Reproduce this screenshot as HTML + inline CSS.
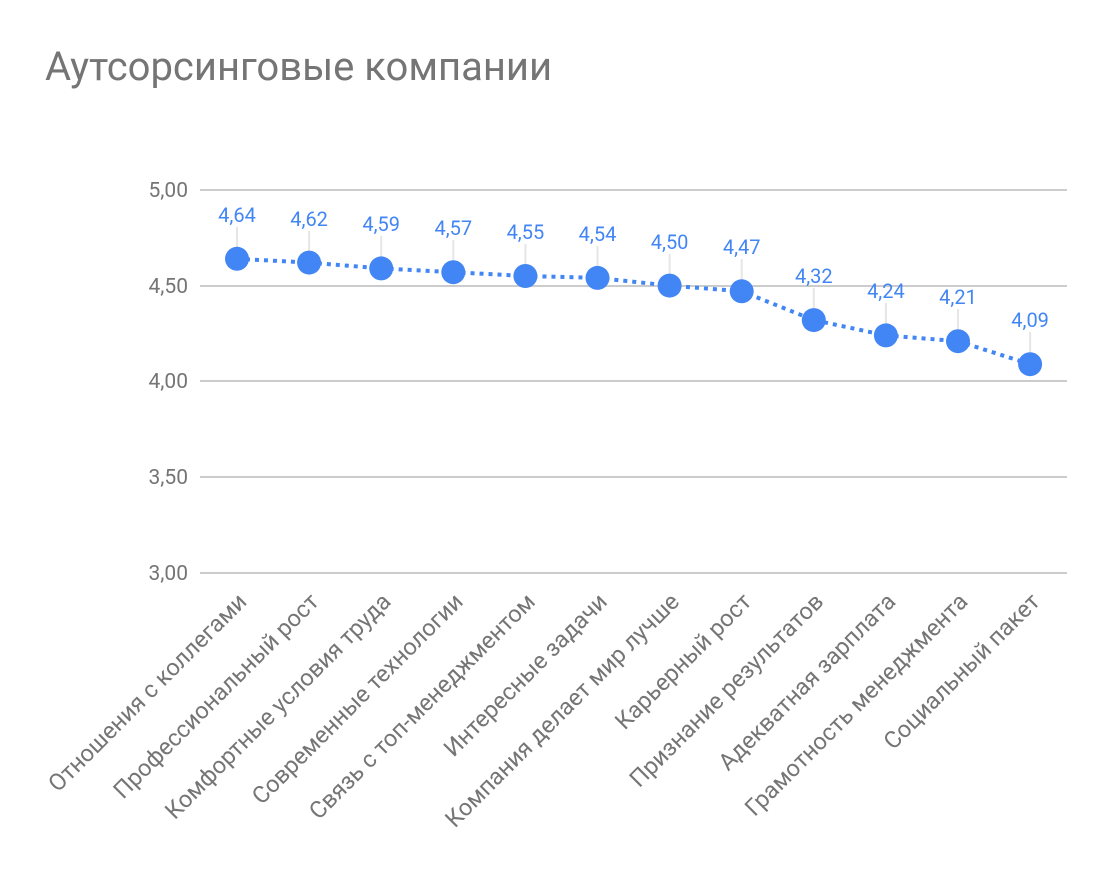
<!DOCTYPE html>
<html><head><meta charset="utf-8"><style>body{margin:0;background:#fff}svg{display:block}</style></head>
<body>
<svg width="1104" height="876" xmlns="http://www.w3.org/2000/svg" font-family="Roboto, 'Liberation Sans', sans-serif">
<rect width="1104" height="876" fill="#fff"/>
<text x="45" y="80" font-size="40" fill="#757575">Аутсорсинговые компании</text>
<g stroke="#cccccc" stroke-width="2">
<line x1="200" x2="1067" y1="190" y2="190"/>
<line x1="200" x2="1067" y1="286" y2="286"/>
<line x1="200" x2="1067" y1="381" y2="381"/>
<line x1="200" x2="1067" y1="477" y2="477"/>
<line x1="200" x2="1067" y1="573" y2="573"/>
</g>
<g font-size="21" fill="#757575" text-anchor="end">
<text x="188" y="197">5,00</text>
<text x="188" y="293">4,50</text>
<text x="188" y="388">4,00</text>
<text x="188" y="484">3,50</text>
<text x="188" y="580">3,00</text>
</g>
<g stroke="#e6e6e6" stroke-width="2">
<line x1="237" x2="237" y1="227" y2="259"/>
<line x1="309.1" x2="309.1" y1="231" y2="263"/>
<line x1="381.2" x2="381.2" y1="236" y2="268"/>
<line x1="453.3" x2="453.3" y1="240" y2="272"/>
<line x1="525.4" x2="525.4" y1="244" y2="276"/>
<line x1="597.5" x2="597.5" y1="246" y2="278"/>
<line x1="669.6" x2="669.6" y1="254" y2="286"/>
<line x1="741.7" x2="741.7" y1="259" y2="291"/>
<line x1="813.8" x2="813.8" y1="288" y2="320"/>
<line x1="885.9" x2="885.9" y1="303" y2="335"/>
<line x1="958" x2="958" y1="309" y2="341"/>
<line x1="1030.1" x2="1030.1" y1="332" y2="364"/>
</g>
<polyline points="237,258.8 309.1,262.6 381.2,268.4 453.3,272.2 525.4,276 597.5,277.9 669.6,285.6 741.7,291.3 813.8,320.1 885.9,335.4 958,341.2 1030.1,364.2" fill="none" stroke="#4285f4" stroke-width="4" stroke-dasharray="4 5"/>
<g fill="#4285f4">
<circle cx="237" cy="258.8" r="12"/><circle cx="309.1" cy="262.6" r="12"/><circle cx="381.2" cy="268.4" r="12"/><circle cx="453.3" cy="272.2" r="12"/><circle cx="525.4" cy="276" r="12"/><circle cx="597.5" cy="277.9" r="12"/><circle cx="669.6" cy="285.6" r="12"/><circle cx="741.7" cy="291.3" r="12"/><circle cx="813.8" cy="320.1" r="12"/><circle cx="885.9" cy="335.4" r="12"/><circle cx="958" cy="341.2" r="12"/><circle cx="1030.1" cy="364.2" r="12"/>
</g>
<g font-size="20" fill="#4285f4" text-anchor="middle">
<text x="237" y="222">4,64</text>
<text x="309.1" y="226">4,62</text>
<text x="381.2" y="231">4,59</text>
<text x="453.3" y="235">4,57</text>
<text x="525.4" y="239">4,55</text>
<text x="597.5" y="241">4,54</text>
<text x="669.6" y="249">4,50</text>
<text x="741.7" y="254">4,47</text>
<text x="813.8" y="283">4,32</text>
<text x="885.9" y="298">4,24</text>
<text x="958" y="304">4,21</text>
<text x="1030.1" y="327">4,09</text>
</g>
<g font-size="23.5" fill="#757575" text-anchor="end">
<text transform="translate(248,603) rotate(-45)">Отношения с коллегами</text>
<text transform="translate(320.1,603) rotate(-45)">Профессиональный рост</text>
<text transform="translate(392.2,603) rotate(-45)">Комфортные условия труда</text>
<text transform="translate(464.3,603) rotate(-45)">Современные технологии</text>
<text transform="translate(536.4,603) rotate(-45)">Связь с топ-менеджментом</text>
<text transform="translate(608.5,603) rotate(-45)">Интересные задачи</text>
<text transform="translate(680.6,603) rotate(-45)">Компания делает мир лучше</text>
<text transform="translate(752.7,603) rotate(-45)">Карьерный рост</text>
<text transform="translate(824.8,603) rotate(-45)">Признание результатов</text>
<text transform="translate(896.9,603) rotate(-45)">Адекватная зарплата</text>
<text transform="translate(969,603) rotate(-45)">Грамотность менеджмента</text>
<text transform="translate(1041.1,603) rotate(-45)">Социальный пакет</text>
</g>
</svg>
</body></html>
